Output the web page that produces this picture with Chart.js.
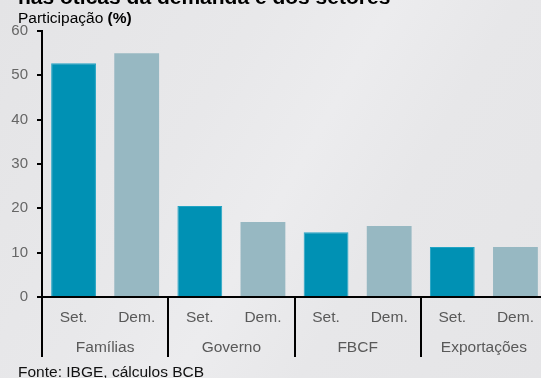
<!DOCTYPE html>
<html>
<head>
<meta charset="utf-8">
<script src="https://cdn.jsdelivr.net/npm/chart.js@4"></script>
<style>
    html, body { margin: 0; padding: 0; overflow: hidden; }
    body {
        width: 541px;
        height: 378px;
        background: linear-gradient(120deg, #e4e4e6 0%, #e8e8ea 35%, #ececee 52%, #e7e7e9 68%, #e5e5e7 100%);
    }
    .chart-container { position: relative; width: 548px; height: 378px; }
</style>
</head>
<body>
<div class="chart-container"><canvas id="shareChart" width="548" height="378"></canvas></div>
<script>
const groups = ["Famílias", "Governo", "FBCF", "Exportações"];
const subLabels = ["Set.", "Dem."];
const setorValues = [52.7, 20.5, 14.6, 11.3];
const demandaValues = [55.0, 16.9, 16.0, 11.3];
const yTicks = [0, 10, 20, 30, 40, 50, 60];

const SET_COLOR = "#0091b4";
const DEM_COLOR = "#97b8c2";
const FONT = "'Liberation Sans', Arial, sans-serif";

const labels = groups.flatMap(() => subLabels);
const values = groups.flatMap((g, i) => [setorValues[i], demandaValues[i]]);
const colors = values.map((v, i) => (i % 2 === 0 ? SET_COLOR : DEM_COLOR));

// title, unit and source lines
const textPlugin = {
    id: "texts",
    afterDraw(chart) {
        const ctx = chart.ctx;
        ctx.save();
        ctx.textBaseline = "alphabetic";
        ctx.textAlign = "left";
        ctx.fillStyle = "#000";
        ctx.font = "bold 21px " + FONT;
        ctx.fillText("nas óticas da demanda e dos setores", 18, 4);

        ctx.font = "15.5px " + FONT;
        const part = "Participação ";
        ctx.fillText(part, 18, 23);
        const w = ctx.measureText(part).width;
        ctx.font = "bold 15.5px " + FONT;
        ctx.fillText("(%)", 18 + w, 23);

        ctx.font = "15.5px " + FONT;
        ctx.fillStyle = "#111";
        ctx.fillText("Fonte: IBGE, cálculos BCB", 18, 377);
        ctx.restore();
    }
};

const ctx = document.getElementById("shareChart").getContext("2d");

new Chart(ctx, {
    type: "bar",
    data: {
        labels: labels,
        datasets: [{
            data: values,
            backgroundColor: colors,
            borderColor: values.map((v, i) => (i % 2 === 0 ? "#22a4c4" : DEM_COLOR)),
            borderWidth: values.map((v, i) => (i % 2 === 0 ? 1 : 0)),
            borderSkipped: "bottom",
            barPercentage: 0.71,
            categoryPercentage: 1,
            xAxisID: "x",
        }],
    },
    options: {
        responsive: false,
        animation: false,
        layout: {
            padding: { top: 31, left: 0, right: 1, bottom: 0 }
        },
        plugins: {
            legend: { display: false },
            tooltip: { enabled: false },
        },
        scales: {
            x: {
                type: "category",
                position: "bottom",
                offset: true,
                grid: {
                    offset: true,
                    drawOnChartArea: false,
                    drawTicks: true,
                    tickLength: 60,
                    lineWidth: 2,
                    color: (c) => (c.index % 2 === 0 ? "#000" : "rgba(0,0,0,0)"),
                },
                border: { display: true, color: "#000", width: 2 },
                ticks: {
                    padding: -49,
                    autoSkip: false,
                    maxRotation: 0,
                    color: "#595959",
                    font: { family: FONT, size: 15.5 },
                },
                afterFit: (s) => { s.height = 36; },
            },
            x2: {
                type: "category",
                position: "bottom",
                labels: groups,
                offset: true,
                grid: { display: false },
                border: { display: false },
                ticks: {
                    padding: -3,
                    autoSkip: false,
                    maxRotation: 0,
                    color: "#595959",
                    font: { family: FONT, size: 15.5 },
                },
                afterFit: (s) => { s.height = 45; },
            },
            y: {
                min: 0,
                max: 60,
                afterBuildTicks: (s) => { s.ticks = yTicks.map((v) => ({ value: v })); },
                grid: {
                    drawOnChartArea: false,
                    drawTicks: true,
                    tickLength: 5,
                    lineWidth: 2,
                    color: "#000",
                },
                border: { display: true, color: "#000", width: 2 },
                ticks: {
                    padding: 9,
                    color: "#666",
                    font: { family: FONT, size: 15 },
                },
                afterFit: (s) => { s.width = 42; },
            },
        },
    },
    plugins: [textPlugin],
});
</script>
</body>
</html>
